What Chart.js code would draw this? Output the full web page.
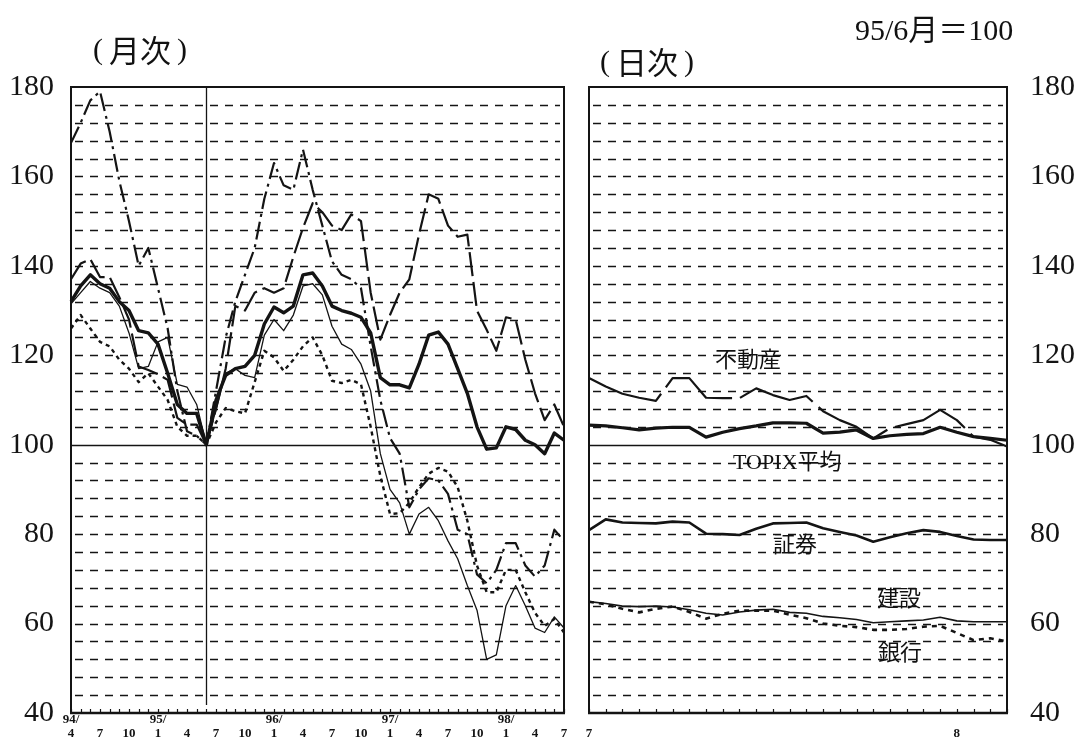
<!DOCTYPE html>
<html><head><meta charset="utf-8">
<script src="https://cdn.jsdelivr.net/npm/chart.js@4.4.1/dist/chart.umd.min.js"></script>
<style>
html,body{margin:0;padding:0;background:#fff;width:1079px;height:738px;overflow:hidden;}
#wrap{position:relative;width:1079px;height:738px;background:#fff;overflow:hidden;}
canvas{position:absolute;top:0;}
#c1{left:0;}
#c2{left:580px;}
.t{position:absolute;font-family:"Liberation Serif","Noto Sans CJK JP",serif;color:#111;white-space:nowrap;line-height:1;}
.j{font-family:"Noto Sans CJK JP",sans-serif;}
.p{font-family:"Liberation Serif",serif;font-size:30px;}
.ti{position:absolute;color:#111;white-space:nowrap;line-height:1;display:flex;align-items:center;}
.ti .j{font-size:31px;margin:0 6px;}
</style></head><body>
<div id="wrap">
<canvas id="c1" width="580" height="748" style="width:580px;height:748px"></canvas>
<canvas id="c2" width="499" height="754" style="width:499px;height:754px"></canvas>
<div class="ti" style="left:93px;top:33px;"><span class="p">(</span><span class="j">月次</span><span class="p">)</span></div>
<div class="ti" style="left:600px;top:45px;"><span class="p">(</span><span class="j">日次</span><span class="p">)</span></div>
<div class="t" style="left:855px;top:12px;font-size:30px;">95/6<span class="j">月＝</span>100</div>
<div class="t j" style="left:715px;top:346px;font-size:22px;">不動産</div>
<div class="t" style="left:733px;top:448px;font-size:22px;">TOPIX<span class="j">平均</span></div>
<div class="t j" style="left:773px;top:531px;font-size:22px;">証券</div>
<div class="t j" style="left:877px;top:585px;font-size:22px;">建設</div>
<div class="t j" style="left:878px;top:639px;font-size:22px;">銀行</div>
</div>
<script>
// ---- monthly (月次) ----
const monthLabels = [
 "94/4","94/5","94/6","94/7","94/8","94/9","94/10","94/11","94/12",
 "95/1","95/2","95/3","95/4","95/5","95/6","95/7","95/8","95/9","95/10","95/11","95/12",
 "96/1","96/2","96/3","96/4","96/5","96/6","96/7","96/8","96/9","96/10","96/11","96/12",
 "97/1","97/2","97/3","97/4","97/5","97/6","97/7","97/8","97/9","97/10","97/11","97/12",
 "98/1","98/2","98/3","98/4","98/5","98/6","98/7"];
const mTopix = [132,135.5,138,136,135,132,130,125.5,125,122.5,116,109,107,107,100,
 110,115.5,117,117.5,120,127,130.8,129.5,131,138,138.4,135.5,131,130,129.4,128.5,125,115,
 113.4,113.4,112.7,118,124.5,125.2,122.5,117,111.5,104,99,99.3,104,103.4,101,100,98,102.6,101];
const mFudosan = [137,140.5,141.5,137.5,137.5,133,128,117.5,116.7,115.8,114.5,106,104.5,104.5,100,
 108,117,131,130,134,135,134,135,142,148.5,154,152,149,148,151.5,150,134,123.5,
 129,134,137,147,156,155,149,146.5,147,130,125.7,121,128.5,128,119,111.5,105.5,109,104];
const mShoken = [167.5,172,177,179,170,159,150,140,144,135,126,112,103,102,100,
 112,124,132,138,144,155,163,158,157,166,157,149,141,138,137,135,122,110,
 101.5,98,86,90,92.5,92,89,81,80,71,69,72,78,78,73,70.5,73,81,78.5];
const mKensetsu = [131.5,134,136.5,135,134,131,125,117,117.5,123,124,113.5,112.9,109,100,
 107.8,116,117,115.5,115,124.5,128,125.5,129,135.5,136,133.5,126.5,122.5,121.3,118,112,98,
 90,87,80,84.5,86,83,78.5,74.5,68.5,63,52,53,64,68.5,64,59,58,61.5,59];
const mGinko = [126,129,126,123,122,119,117,114,116,113,110,104,102,102,100,
 105,108.2,107.5,107,114,121,119.5,116.5,119,122,124,120,114.3,113.8,114.5,113.5,104,93,
 84.5,84.7,87,90.5,93.5,94.8,94,90.5,83,73,67,67,72,72,67,62.4,59.5,61,58];
const baseMonth = "95/6";

// ---- daily (日次) ----
const dayLabels = ["7/1","7/2","7/3","7/6","7/7","7/8","7/9","7/10","7/13","7/14","7/15","7/16","7/17",
 "7/21","7/22","7/23","7/24","7/27","7/28","7/29","7/30","7/31","8/3","8/4","8/5","8/6"];
const dFudosan = [114.9,113,111.4,110.5,109.8,114.9,114.9,110.5,110.4,110.4,112.6,111.1,110,110.9,107.5,105.5,104,101.4,103.7,104.6,105.5,107.8,105.5,101.8,101.1,99.6];
const dTopix = [104.4,104.2,103.8,103.3,103.7,103.9,103.9,101.7,102.8,103.6,104.2,104.9,104.9,104.8,102.6,102.8,103.3,101.4,102,102.3,102.5,103.9,102.8,101.8,101.4,101];
const dShoken = [80.9,83.3,82.6,82.5,82.4,82.8,82.6,80.1,80,79.8,81.2,82.4,82.5,82.6,81.3,80.5,79.7,78.3,79.3,80.2,80.9,80.5,79.6,78.8,78.7,78.7];
const dKensetsu = [64.9,64.5,63.9,63.8,63.9,63.7,63.1,62.3,61.9,62.6,63,63.2,62.5,62.3,61.6,61.3,60.9,60.2,60.4,60.6,60.8,61.4,60.6,60.4,60.4,60.4];
const dGinko = [64.9,64.3,63.3,62.5,63.3,63.8,62.6,61.1,62.2,62.9,62.9,62.9,62,61.2,60,59.5,59.2,58.6,58.6,58.8,59.3,59.5,57.9,56.3,56.7,56];

const INK = '#141414';
const panelPlugin = {
  id: 'panel',
  beforeDatasetsDraw(chart, args, opts) {
    const {ctx, chartArea: a, scales: {x, y}} = chart;
    ctx.save();
    ctx.strokeStyle = INK;
    y.ticks.forEach(t => {
      const v = t.value;
      if (v <= y.min || v >= y.max) return;
      const py = Math.round(y.getPixelForValue(v)) + 0.5;
      ctx.beginPath();
      if (v === 100) { ctx.setLineDash([]); ctx.lineWidth = 1.4; ctx.moveTo(a.left, py); }
      else { ctx.setLineDash([8, 7]); ctx.lineWidth = 1.5; ctx.moveTo(a.left + 4, py); }
      ctx.lineTo(a.right - 4, py);
      ctx.stroke();
    });
    ctx.setLineDash([]);
    if (opts.vline) {
      const px = Math.round(x.getPixelForValue(x.getLabels().indexOf(opts.vline))) + 0.5;
      ctx.lineWidth = 1.3;
      ctx.beginPath(); ctx.moveTo(px, a.top); ctx.lineTo(px, a.bottom - 8); ctx.stroke();
    }
    ctx.lineWidth = 1.2;
    for (let i = 0; i < x.ticks.length; i++) {
      const px = Math.round(x.getPixelForTick(i)) + 0.5;
      ctx.beginPath(); ctx.moveTo(px, a.bottom); ctx.lineTo(px, a.bottom - 4); ctx.stroke();
    }
    ctx.restore();
  },
  afterDatasetsDraw(chart) {
    const {ctx, chartArea: a} = chart;
    ctx.save();
    ctx.strokeStyle = INK;
    ctx.lineWidth = 2;
    ctx.strokeRect(a.left, a.top, a.right - a.left, a.bottom - a.top);
    ctx.lineWidth = 2.6;
    ctx.beginPath(); ctx.moveTo(a.left - 1, a.bottom); ctx.lineTo(a.right + 1, a.bottom); ctx.stroke();
    ctx.restore();
  }
};

function ds(data, width, dash) {
  return {data, borderColor: INK, borderWidth: width, borderDash: dash || [], pointRadius: 0,
    tension: 0, fill: false, borderCapStyle: 'butt', borderJoinStyle: 'round'};
}
function yScale(pos, pad, width) {
  return {position: pos, min: 40, max: 180,
    grid: {display: false, drawTicks: false}, border: {display: false},
    ticks: {stepSize: 4, autoSkip: false, padding: pad, color: INK,
      font: {family: 'Liberation Serif', size: 30},
      callback: v => (v % 20 === 0 ? String(v) : '')},
    afterFit: s => { s.width = width; }};
}
const tickFont = {family: 'Liberation Serif', size: 13, weight: 'bold', lineHeight: 1.05};

function fitArea(chart, top, bottom) {
  for (let k = 0; k < 15; k++) {
    const dt = top - chart.chartArea.top;
    const db = bottom - chart.chartArea.bottom;
    if (Math.abs(dt) < 0.3 && Math.abs(db) < 0.3) break;
    chart.options.layout.padding.top += dt;
    chart.options.layout.padding.bottom -= db;
    chart.update();
  }
}

const c1 = new Chart(document.getElementById('c1'), {
  type: 'line',
  data: {labels: monthLabels, datasets: [
    ds(mShoken, 2.2, [18, 5, 3, 5]),
    ds(mFudosan, 2.2, [24, 6]),
    ds(mKensetsu, 1.3),
    ds(mGinko, 2.4, [4, 4]),
    ds(mTopix, 3.4)
  ]},
  options: {
    responsive: false, animation: false, devicePixelRatio: 1,
    layout: {padding: {left: 0, right: 16, top: 87, bottom: 0}},
    plugins: {legend: {display: false}, tooltip: {enabled: false}, panel: {vline: baseMonth}},
    scales: {
      x: {type: 'category', offset: false,
        grid: {display: false, drawTicks: false}, border: {display: false},
        ticks: {autoSkip: false, maxRotation: 0, minRotation: 0, padding: 0, color: INK, font: tickFont,
          callback: function (v, i) {
            const [yy, mm] = this.getLabelForValue(v).split('/');
            const m = +mm;
            if (m % 3 !== 1) return '';
            return [(i === 0 || m === 1) ? yy + '/' : '', String(m)];
          }},
        afterFit: s => { s.height = 30; }},
      y: yScale('left', 17, 71)
    }
  },
  plugins: [panelPlugin]
});
fitArea(c1, 87, 713);

const c2 = new Chart(document.getElementById('c2'), {
  type: 'line',
  data: {labels: dayLabels, datasets: [
    ds(dFudosan, 2.2, [80, 8]),
    ds(dTopix, 3.2),
    ds(dShoken, 2.6),
    ds(dKensetsu, 1.6),
    ds(dGinko, 2.6, [5, 5])
  ]},
  options: {
    responsive: false, animation: false, devicePixelRatio: 1,
    layout: {padding: {left: 9, right: 0, top: 87, bottom: 0}},
    plugins: {legend: {display: false}, tooltip: {enabled: false}, panel: {}},
    scales: {
      x: {type: 'category', offset: false,
        grid: {display: false, drawTicks: false}, border: {display: false},
        ticks: {autoSkip: false, maxRotation: 0, minRotation: 0, padding: 0, color: INK, font: tickFont,
          callback: function (v, i) {
            const [mm] = this.getLabelForValue(v).split('/');
            const prev = i > 0 ? dayLabels[i - 1].split('/')[0] : null;
            return (mm !== prev) ? ['', mm] : '';
          }},
        afterFit: s => { s.height = 30; }},
      y: yScale('right', 23, 72)
    }
  },
  plugins: [panelPlugin]
});
fitArea(c2, 87, 713);
</script>
</body></html>
